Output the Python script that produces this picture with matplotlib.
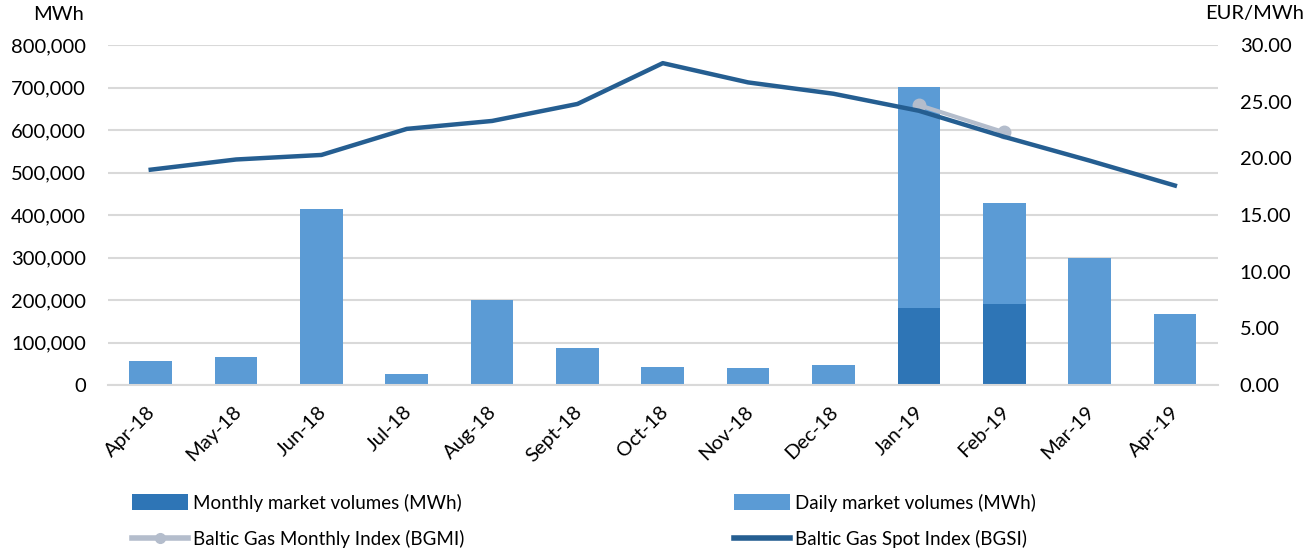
import matplotlib
matplotlib.use("Agg")
import matplotlib.pyplot as plt
import matplotlib.transforms as mtransforms
import numpy as np
from matplotlib.ticker import FuncFormatter, MultipleLocator
from matplotlib.lines import Line2D
from matplotlib.patches import Patch

plt.rcParams['font.family'] = ['Lato', 'DejaVu Sans']

months = ["Apr-18", "May-18", "Jun-18", "Jul-18", "Aug-18", "Sept-18", "Oct-18",
          "Nov-18", "Dec-18", "Jan-19", "Feb-19", "Mar-19", "Apr-19"]
monthly_volumes = [0, 0, 0, 0, 0, 0, 0, 0, 0, 181000, 190000, 0, 0]
daily_volumes = [56000, 66000, 414000, 26000, 200000, 87000, 42000, 40000, 47000,
                 520000, 238000, 299000, 167000]
bgsi = [19.0, 19.9, 20.3, 22.6, 23.3, 24.8, 28.4, 26.7, 25.7, 24.2, 21.9, 19.8, 17.6]
bgmi = [np.nan] * 9 + [24.7, 22.3, np.nan, np.nan]

c_monthly = "#2E75B6"
c_daily = "#5B9BD5"
c_bgsi = "#255E91"
c_bgmi = "#B4BDCC"
fs = 14.5

fig = plt.figure(figsize=(13.13, 5.49), dpi=100)
ax = fig.add_axes([0.0823, 0.2987, 0.845, 0.6193])
x = np.arange(len(months))

ax.bar(x, monthly_volumes, width=0.5, color=c_monthly, zorder=2)
ax.bar(x, daily_volumes, width=0.5, bottom=monthly_volumes, color=c_daily, zorder=2)
ax.set_ylim(0, 800000)
ax.set_xlim(-0.5, len(months) - 0.5)
ax.yaxis.set_major_locator(MultipleLocator(100000))
ax.yaxis.set_major_formatter(FuncFormatter(lambda v, p: f"{int(v):,}"))
ax.grid(axis='y', color='#D9D9D9', linewidth=1.5, zorder=0)
ax.set_axisbelow(True)
for s in ['top', 'right', 'left']:
    ax.spines[s].set_visible(False)
ax.spines['bottom'].set_color('#D9D9D9')
ax.spines['bottom'].set_linewidth(1.5)
ax.tick_params(axis='y', length=0, pad=16, labelsize=fs)
ax.tick_params(axis='x', length=0, pad=13, labelsize=fs)
ax.set_xticks(x)
ax.set_xticklabels(months, rotation=45, ha='right', rotation_mode='anchor')
offset = mtransforms.ScaledTranslation(-4 / 100, 0, fig.dpi_scale_trans)
for lbl in ax.get_xticklabels():
    lbl.set_transform(lbl.get_transform() + offset)

ax2 = ax.twinx()
ax2.plot(x, bgmi, color=c_bgmi, linewidth=3, marker='o', markersize=9, zorder=3)
ax2.plot(x, bgsi, color=c_bgsi, linewidth=3.2, zorder=4)
ax2.set_ylim(0, 30)
ax2.yaxis.set_major_locator(MultipleLocator(5))
ax2.yaxis.set_major_formatter(FuncFormatter(lambda v, p: f"{v:.2f}"))
for s in ax2.spines.values():
    s.set_visible(False)
ax2.tick_params(axis='y', length=0, pad=16, labelsize=fs)

fig.text(33 / 1313, 1 - 14 / 549, "MWh", fontsize=fs, ha='left', va='center')
fig.text(1255 / 1313, 1 - 14 / 549, "EUR/MWh", fontsize=fs, ha='center', va='center')

h_monthly = Patch(facecolor=c_monthly)
h_daily = Patch(facecolor=c_daily)
h_bgmi = Line2D([], [], color=c_bgmi, linewidth=4, marker='o', markersize=7)
h_bgsi = Line2D([], [], color=c_bgsi, linewidth=4)

leg_kw = dict(frameon=False, fontsize=13.5, handlelength=3.0, handleheight=0.9,
              handletextpad=0.3, labelspacing=1.0, loc='upper left', borderaxespad=0)
fig.legend([h_monthly, h_bgmi], ["Monthly market volumes (MWh)", "Baltic Gas Monthly Index (BGMI)"],
           bbox_to_anchor=(124 / 1313, 1 - 486 / 549), **leg_kw)
fig.legend([h_daily, h_bgsi], ["Daily market volumes (MWh)", "Baltic Gas Spot Index (BGSI)"],
           bbox_to_anchor=(726 / 1313, 1 - 486 / 549), **leg_kw)

fig.savefig("out.png", dpi=100)
